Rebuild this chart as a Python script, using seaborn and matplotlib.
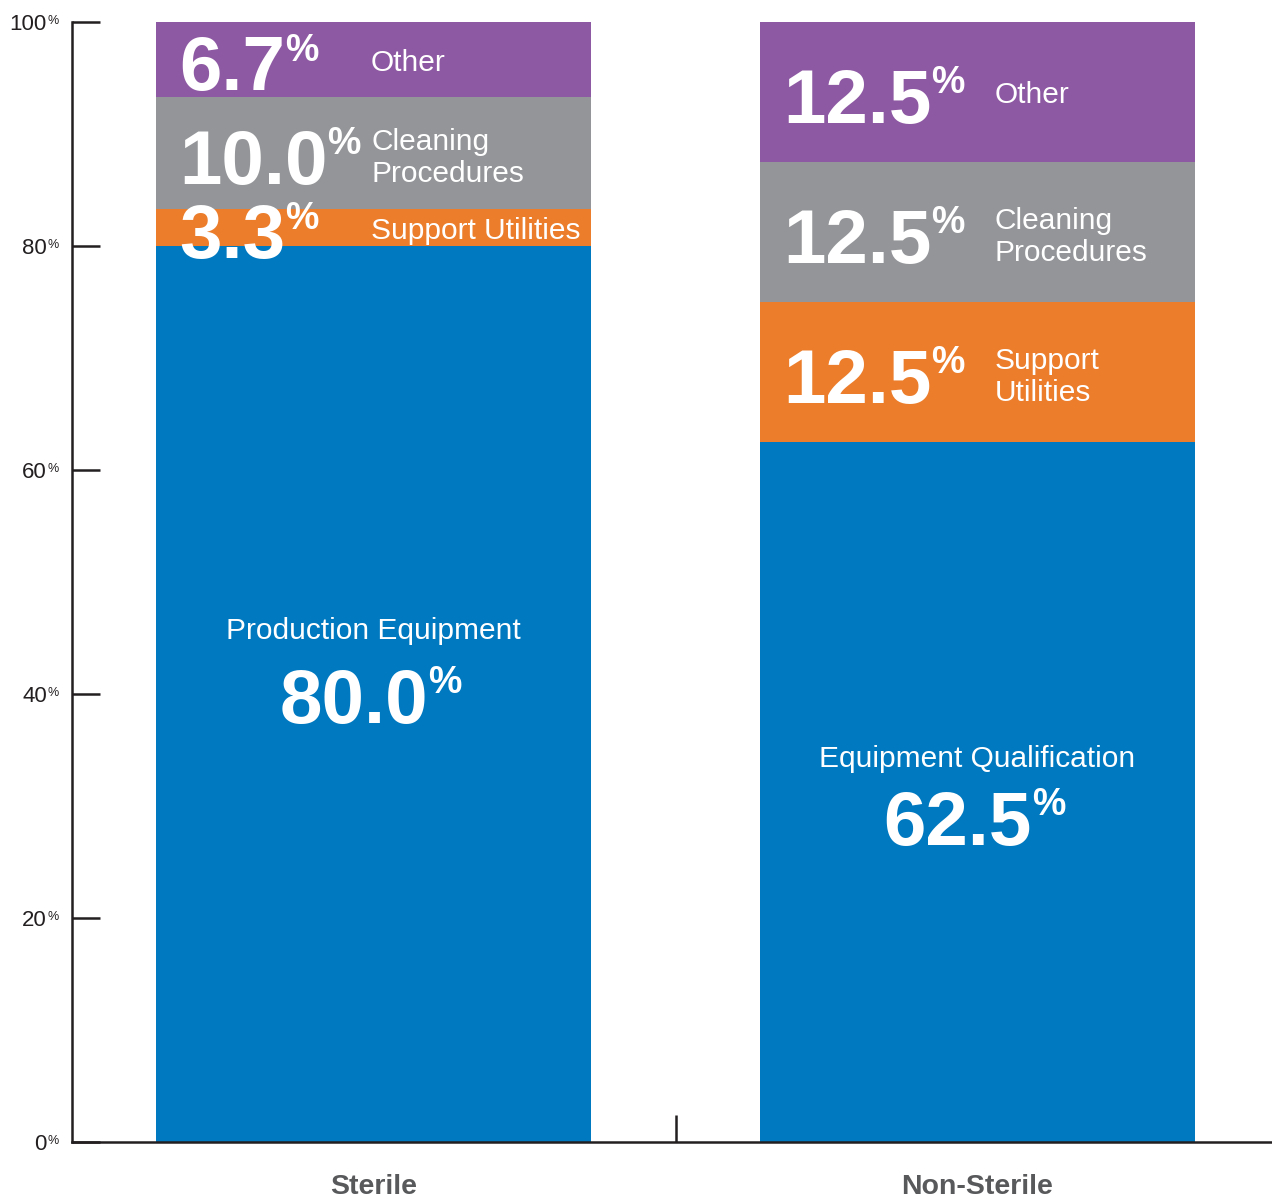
import matplotlib
matplotlib.use("Agg")
import matplotlib.pyplot as plt
import seaborn as sns
import pandas as pd
import numpy as np

# ---- data ----
groups = ["Sterile", "Non-Sterile"]
production = [80.0, 62.5]
support = [3.3, 12.5]
cleaning = [10.0, 12.5]
other = [6.7, 12.5]
base_labels = ["Production Equipment", "Equipment Qualification"]
seg_labels = ["Support Utilities", "Cleaning\nProcedures", "Other"]
seg_labels_ns = ["Support\nUtilities", "Cleaning\nProcedures", "Other"]
yticks = [0, 20, 40, 60, 80, 100]

colors = {"production": "#0079C1", "support": "#EC7D2B",
          "cleaning": "#939598", "other": "#8E59A3"}

sns.set_theme(style="white")
plt.rcParams["font.family"] = ["Liberation Sans", "DejaVu Sans"]

fig = plt.figure(figsize=(12.72, 11.99), dpi=100)
ax = fig.add_axes([72 / 1272, 57 / 1199, 1200 / 1272, 1120 / 1199])

df = pd.DataFrame({"group": groups, "production": production, "support": support,
                   "cleaning": cleaning, "other": other})
df["c1"] = df["production"]
df["c2"] = df["c1"] + df["support"]
df["c3"] = df["c2"] + df["cleaning"]
df["c4"] = df["c3"] + df["other"]

for col, key in [("c4", "other"), ("c3", "cleaning"), ("c2", "support"), ("c1", "production")]:
    sns.barplot(data=df, x="group", y=col, color=colors[key], width=0.72, saturation=1,
                errorbar=None, linewidth=0, edgecolor="none", ax=ax)

ax.set_xlim(-0.4992, 1.4876)
ax.set_ylim(0, 100)
ax.set_xlabel("")
ax.set_ylabel("")
sns.despine(ax=ax)
for s in ["left", "bottom"]:
    ax.spines[s].set_color("#231F20")
    ax.spines[s].set_linewidth(1.8)

# y ticks (inward) with manual labels
ax.set_yticks(yticks)
ax.set_yticklabels([])
ax.tick_params(axis="y", left=True, direction="in", length=20, width=1.8, color="#231F20")
ytr = ax.get_yaxis_transform()
for v in yticks:
    t = ax.text(-0.021, v, f"{v}", transform=ytr, ha="right", va="center_baseline",
                fontsize=16, color="#231F20")
    ax.annotate("%", xy=(1, 1), xycoords=t, xytext=(0.8, -1), textcoords="offset points",
                ha="left", va="top", fontsize=9, color="#231F20")

# x ticks
ax.set_xticks([0, 1])
ax.set_xticklabels(groups, fontsize=20.5, fontweight="bold", color="#58595B")
ax.tick_params(axis="x", which="major", length=0, pad=23)
ax.set_xticks([0.5], minor=True)
ax.tick_params(axis="x", which="minor", bottom=True, direction="in", length=19.5,
               width=1.8, color="#231F20")


def big_number(x, y, value, ha="left"):
    t = ax.text(x, y, f"{value:.1f}", ha=ha, va="center_baseline", fontsize=55,
                fontweight="bold", color="white", zorder=5)
    ax.annotate("%", xy=(1, 1), xycoords=t, xytext=(0, 2), textcoords="offset points",
                ha="left", va="top", fontsize=27, fontweight="bold", color="white", zorder=5)
    return t


label_dx = [0.0, 0.032]
for i, g in enumerate(groups):
    bottoms = [df["c1"][i], df["c2"][i], df["c3"][i]]
    vals = [support[i], cleaning[i], other[i]]
    labs = seg_labels if i == 0 else seg_labels_ns
    for b, v, lab in zip(bottoms, vals, labs):
        mid = b + v / 2
        big_number(i - 0.322, mid - 0.3, v)
        ax.text(i + label_dx[i] - 0.004, mid, lab, ha="left", va="center_baseline",
                fontsize=21.5, color="white", linespacing=1.17, zorder=5)

# base segment texts
base_label_y = [45.9, 34.5]
base_num_y = [39.9, 29.0]
for i, g in enumerate(groups):
    ax.text(i, base_label_y[i], base_labels[i], ha="center", va="center_baseline",
            fontsize=21.5, color="white", zorder=5)
    big_number(i - 0.033, base_num_y[i], production[i], ha="center")

fig.savefig("out.png", dpi=100)
